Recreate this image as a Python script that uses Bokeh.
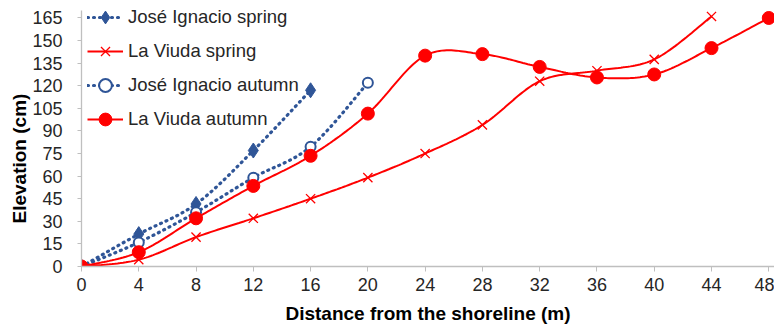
import numpy as np
from bokeh.plotting import figure
from bokeh.models import Legend, LegendItem, Range1d, FixedTicker, Title
from bokeh.embed import file_html
from bokeh.resources import INLINE

# ---- data ----
ji_spring_x = [0, 4, 8, 12, 16]
ji_spring_y = [0, 21.5, 41.5, 77, 117]

lv_spring_x = [0, 4, 8, 12, 16, 20, 24, 28, 32, 36, 40, 44]
lv_spring_y = [0, 4.5, 19.5, 32, 45, 59, 75, 94, 123, 130, 137.5, 166]

ji_autumn_x = [0, 4, 8, 12, 16, 20]
ji_autumn_y = [0, 16, 36, 59, 79.5, 122]

lv_autumn_x = [0, 4, 8, 12, 16, 20, 24, 28, 32, 36, 40, 44, 48]
lv_autumn_y = [0, 9.5, 32, 53.5, 73.5, 101.5, 140, 141, 132.5, 125.5, 127.5, 145, 165]

x_ticks = list(range(0, 49, 4))
y_ticks = list(range(0, 166, 15))

BLUE = "#2F5597"
RED = "#FF0000"
FONT = "Liberation Sans"


def smooth(xs, ys, n=24):
    """Excel-like smoothed line: cubic Bezier with Catmull-Rom control points."""
    P = np.column_stack([xs, ys]).astype(float)
    out = [P[0]]
    for i in range(len(P) - 1):
        p0 = P[i - 1] if i > 0 else P[i]
        p1 = P[i]
        p2 = P[i + 1]
        p3 = P[i + 2] if i + 2 < len(P) else P[i + 1]
        c1 = p1 + (p2 - p0) / 6.0
        c2 = p2 - (p3 - p1) / 6.0
        t = np.linspace(0, 1, n + 1)[1:, None]
        seg = ((1 - t) ** 3) * p1 + 3 * ((1 - t) ** 2) * t * c1 + 3 * (1 - t) * t * t * c2 + t ** 3 * p2
        out.extend(seg)
    out = np.array(out)
    return out[:, 0], out[:, 1]


p = figure(width=774, height=326, output_backend="svg", toolbar_location=None,
           x_range=Range1d(0, 48.4), y_range=Range1d(0, 176.6),
           min_border_left=81, min_border_right=0, min_border_top=0, min_border_bottom=60)
p.outline_line_color = None
p.xgrid.grid_line_color = None
p.ygrid.grid_line_color = None
p.background_fill_color = None
p.border_fill_color = "white"

for ax in (p.xaxis[0], p.yaxis[0]):
    ax.axis_line_color = "#BFBFBF"
    ax.axis_line_width = 1.3
    ax.major_tick_line_color = "#BFBFBF"
    ax.major_tick_in = 0
    ax.minor_tick_line_color = None
    ax.major_label_text_font = FONT
    ax.major_label_text_font_size = "18px"
    ax.major_label_text_color = "#262626"

p.yaxis.bounds = (0, 170)
p.xaxis.ticker = FixedTicker(ticks=x_ticks)
p.yaxis.ticker = FixedTicker(ticks=y_ticks)
p.xaxis.axis_label = "Distance from the shoreline (m)"
p.xaxis.axis_label_text_font = FONT
p.xaxis.axis_label_text_font_size = "19px"
p.xaxis.axis_label_text_font_style = "bold"
p.xaxis.axis_label_text_color = "#000000"
p.xaxis.major_tick_out = 5
p.yaxis.major_tick_out = 4
p.xaxis.major_label_standoff = 6
p.yaxis.major_label_standoff = 15
p.xaxis.axis_label_standoff = 9

ytitle = Title(text="Elevation (cm)", align="left", offset=43,
               text_font=FONT, text_font_size="19px", text_font_style="bold",
               text_color="#000000", standoff=0)
p.add_layout(ytitle, "left")

items = []

# José Ignacio spring
sx, sy = smooth(ji_spring_x, ji_spring_y)
l1 = p.line(sx, sy, line_color=BLUE, line_width=3.2, line_dash="1 5", line_cap="round")
m1 = p.scatter(ji_spring_x, ji_spring_y, marker="diamond", size=15, fill_color=BLUE, line_color=BLUE)
items.append(LegendItem(label="José Ignacio spring", renderers=[l1, m1]))

# La Viuda spring
sx, sy = smooth(lv_spring_x, lv_spring_y)
l2 = p.line(sx, sy, line_color=RED, line_width=2)
m2 = p.scatter(lv_spring_x, lv_spring_y, marker="x", size=13, line_color=RED, line_width=1.3)
items.append(LegendItem(label="La Viuda spring", renderers=[l2, m2]))

# José Ignacio autumn
sx, sy = smooth(ji_autumn_x, ji_autumn_y)
l3 = p.line(sx, sy, line_color=BLUE, line_width=3.2, line_dash="1 5", line_cap="round")
m3 = p.scatter(ji_autumn_x, ji_autumn_y, marker="circle", size=10, fill_color="white",
               line_color=BLUE, line_width=2)
items.append(LegendItem(label="José Ignacio autumn", renderers=[l3, m3]))

# La Viuda autumn
sx, sy = smooth(lv_autumn_x, lv_autumn_y)
l4 = p.line(sx, sy, line_color=RED, line_width=2)
m4 = p.scatter(lv_autumn_x, lv_autumn_y, marker="circle", size=13, fill_color=RED, line_color=RED)
items.append(LegendItem(label="La Viuda autumn", renderers=[l4, m4]))

legend = Legend(items=items, location=(6, 131), padding=0, margin=0, spacing=2,
                glyph_width=36, glyph_height=32, label_height=32, label_standoff=5,
                label_text_font=FONT, label_text_font_size="18.5px", label_text_color="#262626",
                background_fill_alpha=0, border_line_color=None)
p.add_layout(legend, "center")

open("out.html", "w").write(file_html(p, INLINE))
